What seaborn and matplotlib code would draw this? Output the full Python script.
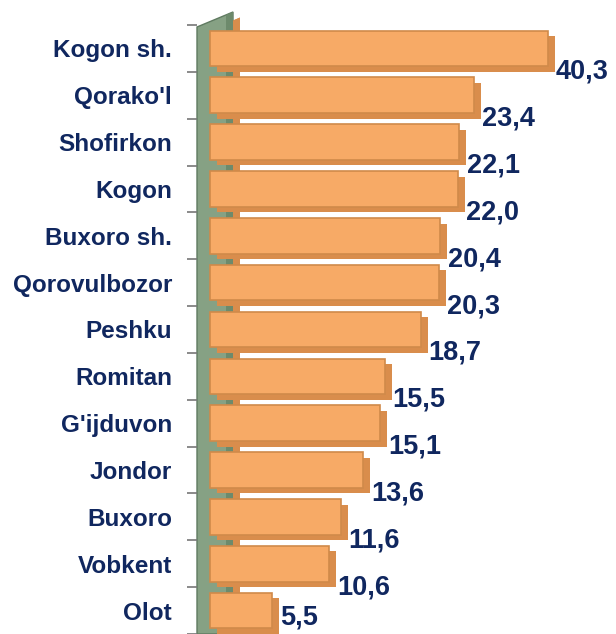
"""Bar chart: districts ranked by value (3D-style look approximated in 2D)."""

import matplotlib

matplotlib.use("Agg")
import matplotlib.pyplot as plt
import matplotlib.patheffects as pe
import pandas as pd
import seaborn as sns
from matplotlib.patches import Polygon


DISTRICTS = [
    "Kogon sh.",
    "Qorako'l",
    "Shofirkon",
    "Kogon",
    "Buxoro sh.",
    "Qorovulbozor",
    "Peshku",
    "Romitan",
    "G'ijduvon",
    "Jondor",
    "Buxoro",
    "Vobkent",
    "Olot",
]
VALUES = [40.3, 23.4, 22.1, 22.0, 20.4, 20.3, 18.7, 15.5, 15.1, 13.6, 11.6, 10.6, 5.5]

NAVY = "#10275f"
BAR_COLOR = "#f7aa66"
BAR_EDGE = "#d08a4a"
BAR_DEPTH = "#d98d4c"

W, H = 616, 634
# the axis stops here, so the longest bar gets cut like in the original
X_MAX = 30.0


def fx(px):
    return px / W


def fy(py):
    return 1 - py / H


def main():
    sns.set_theme(style="white")
    plt.rcParams["font.family"] = ["Liberation Sans", "DejaVu Sans"]

    df = pd.DataFrame({"district": DISTRICTS, "value": VALUES})
    df["shown"] = df["value"].clip(upper=X_MAX)

    fig = plt.figure(figsize=(W / 100, H / 100), dpi=100)
    ax = fig.add_axes([fx(197), 0, fx(548) - fx(197), fy(25)])
    ax.patch.set_alpha(0)

    # the greenish side wall behind the bars
    wall = Polygon(
        [(fx(197), fy(27)), (fx(233), fy(12)), (fx(233), 0), (fx(197), 0)],
        closed=True,
        transform=fig.transFigure,
        facecolor="#86a184",
        edgecolor="#5f7a60",
        linewidth=1,
        zorder=0,
        clip_on=False,
    )
    ax.add_artist(wall)
    strip = Polygon(
        [(fx(226), fy(15)), (fx(233), fy(12)), (fx(233), 0), (fx(226), 0)],
        closed=True,
        transform=fig.transFigure,
        facecolor="#6d8a6c",
        linewidth=0,
        zorder=0,
        clip_on=False,
    )
    ax.add_artist(strip)

    sns.barplot(
        data=df,
        x="shown",
        y="district",
        orient="h",
        color=BAR_COLOR,
        edgecolor=BAR_EDGE,
        linewidth=1.2,
        width=0.76,
        saturation=1,
        ax=ax,
        zorder=2,
    )
    for bar in ax.patches:
        bar.set_clip_on(False)
        bar.set_path_effects(
            [
                pe.SimplePatchShadow(offset=(5, -4), shadow_rgbFace=BAR_DEPTH, alpha=1),
                pe.Normal(),
            ]
        )

    # zero sits a little right of the wall's left edge
    ax.set_xlim(-(210 - 197) / 11.3, X_MAX)
    ax.set_ylim(12.38, -0.5)

    for i, v in enumerate(VALUES):
        end = min(v, X_MAX)
        ax.text(
            end + 0.7,
            min(i + 0.5, 12.15),
            f"{v:.1f}".replace(".", ","),
            ha="left",
            va="center",
            fontsize=19.5,
            fontweight="bold",
            color=NAVY,
            clip_on=False,
        )

    ax.set_xlabel("")
    ax.set_ylabel("")
    ax.set_xticks([])
    ax.tick_params(axis="y", which="major", left=False, length=0, pad=18)
    for label in ax.get_yticklabels():
        label.set_fontsize(17.5)
        label.set_fontweight("bold")
        label.set_color(NAVY)

    ax.set_yticks([i + 0.5 for i in range(-1, 13)], minor=True)
    ax.tick_params(
        axis="y", which="minor", left=True, length=7, width=1.2,
        color="#777777", direction="out",
    )
    for spine in ax.spines.values():
        spine.set_visible(False)

    fig.savefig("out.png", dpi=100)
    plt.close(fig)


if __name__ == "__main__":
    main()
